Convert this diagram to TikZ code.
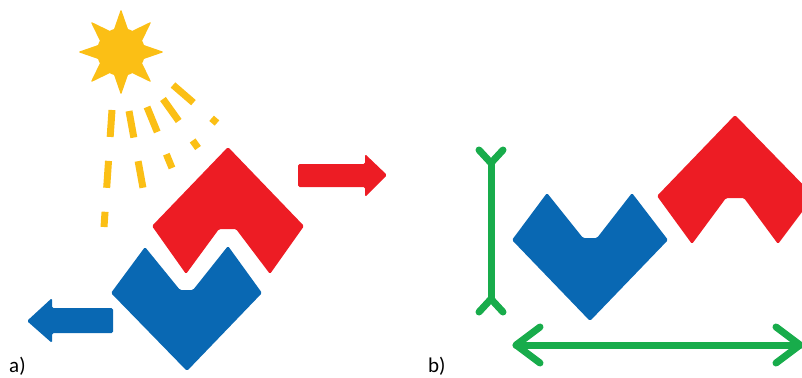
\documentclass[tikz,border=0pt]{standalone}
\usepackage{fontspec}
\setmainfont{Carlito}
\usepackage{tikz}
\usetikzlibrary{arrows,calc,positioning}

\definecolor{pcred}{HTML}{ED1C24}
\definecolor{pcblue}{HTML}{0968B3}
\definecolor{pcsun}{HTML}{FBBF15}
\definecolor{pcgreen}{HTML}{18AC4B}

\begin{document}
\begin{tikzpicture}[x=1pt,y=-1pt,
    redpiece/.style={fill=pcred,rounded corners=1.5pt},
    bluepiece/.style={fill=pcblue,rounded corners=1.5pt},
    sunray/.style={draw=pcsun,line width=7pt,dash pattern=on 27pt off 24pt},
    greenline/.style={draw=pcgreen,line width=7pt,line cap=round,line join=round},
    panel/.style={anchor=base west,inner sep=0pt,font=\fontsize{21}{25}\selectfont}]
%
  \useasboundingbox (0,0) rectangle (802,377) ;
  \clip (0,0) rectangle (802,377) ;
%
  % the sun and its rays
  \coordinate (sun) at (121,52) ;
  \fill [pcsun] (sun) circle (24) ;
  \foreach \a in {0,45,...,315}
    \fill [pcsun,rounded corners=1.5pt]
      ($(sun)+(\a+23:21)$) -- ($(sun)+(\a:43)$) -- ($(sun)+(\a-23:21)$) -- cycle ;
  \draw [sunray] (112,110) -- (104,227) ;
  \draw [sunray] (129,111) -- (143,188) ;
  \draw [sunray] (147,107) -- (172,168) ;
  \draw [sunray] (163,99)  -- (198,148) ;
  \draw [sunray] (173,85)  -- (217,123) ;
%
  % a) the two pieces pushed apart
  \fill [redpiece] (228,147) -- (304,226) -- (270,274) -- (236,229)
    -- (219,229) -- (186,274) -- (152,226) -- cycle ;
  \fill [bluepiece] (111,293) -- (145,247) -- (180,290) -- (193,290)
    -- (228,246) -- (262,293) -- (187,371) -- cycle ;
  \fill [redpiece] (298,164) -- (365,164) -- (365,154) -- (387,175)
    -- (365,197) -- (365,187) -- (298,187) -- cycle ;
  \fill [bluepiece] (113,308) -- (52,308) -- (52,298) -- (27,321)
    -- (52,343) -- (52,333) -- (113,333) -- cycle ;
  \node [panel] (lbla) at (9,372) {a)} ;
%
  % b) the pieces side by side with their extents
  \fill [bluepiece] (512,240) -- (547,193) -- (583,238) -- (597,238)
    -- (632,193) -- (668,240) -- (590,321) -- cycle ;
  \fill [redpiece] (735,115) -- (814,196) -- (778,244) -- (744,198)
    -- (726,198) -- (692,244) -- (657,196) -- cycle ;
  \draw [greenline] (491,163) -- (491,299) ;
  \draw [greenline] (479,150) -- (491,163) -- (503,150) ;
  \draw [greenline] (479,312) -- (491,299) -- (503,312) ;
  \draw [greenline] (516,345) -- (800,345) ;
  \draw [greenline] (540,327) -- (516,345) -- (540,363) ;
  \draw [greenline] (776,327) -- (800,345) -- (776,363) ;
  \node [panel] (lblb) at (428,372) {b)} ;
\end{tikzpicture}
\end{document}
